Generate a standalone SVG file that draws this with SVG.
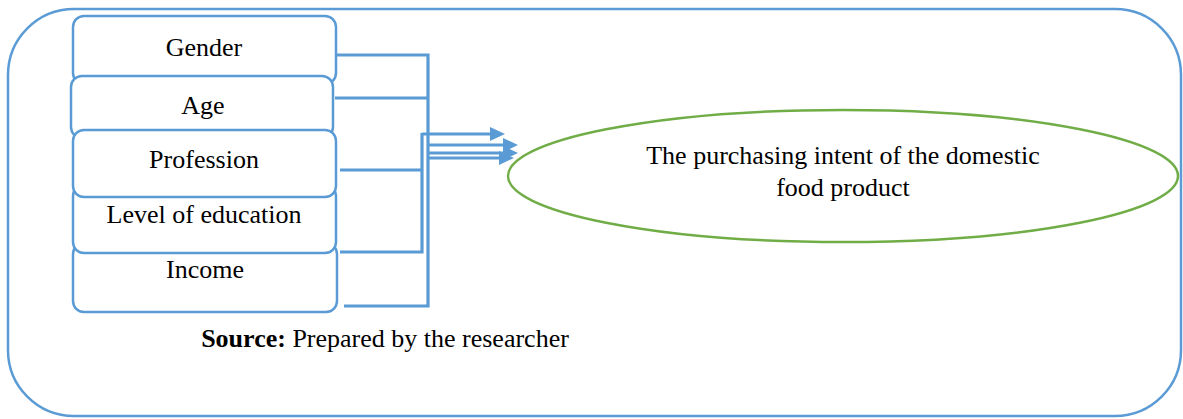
<svg xmlns="http://www.w3.org/2000/svg" width="1183" height="419" viewBox="0 0 1183 419">
  <style>
    .frame { fill: #ffffff; stroke: #5B9BD5; stroke-width: 2.5; }
    .box { fill: #ffffff; stroke: #5B9BD5; stroke-width: 2.5; }
    .label { font-family: "Liberation Serif", "Times New Roman", serif; font-size: 26px; fill: #000000; text-anchor: middle; }
    .link { fill: none; stroke: #5B9BD5; stroke-width: 3.2; }
    .goal { fill: #ffffff; stroke: #70AD47; stroke-width: 2.5; }
  </style>
  <defs>
    <marker id="head" markerUnits="userSpaceOnUse" markerWidth="16" markerHeight="16" refX="1" refY="8" orient="auto" viewBox="0 0 16 16">
      <polygon points="0,1 15,8 0,15" fill="#5B9BD5"/>
    </marker>
  </defs>

  <!-- outer rounded frame -->
  <rect class="frame" x="8" y="9" width="1173" height="407" rx="66" ry="66"/>

  <!-- stacked factor boxes -->
  <g id="gender">
    <rect class="box" x="73" y="16" width="263" height="68" rx="11"/>
    <text class="label" x="204" y="56">Gender</text>
  </g>
  <g id="age">
    <rect class="box" x="71" y="76" width="262" height="62" rx="11"/>
    <text class="label" x="203" y="114">Age</text>
  </g>
  <g id="income">
    <rect class="box" x="73" y="243" width="264" height="69" rx="11"/>
    <text class="label" x="205" y="278">Income</text>
  </g>
  <g id="education">
    <rect class="box" x="73" y="185" width="263" height="68" rx="11"/>
    <text class="label" x="204" y="223">Level of education</text>
  </g>
  <g id="profession">
    <rect class="box" x="73" y="130" width="263" height="67" rx="11"/>
    <text class="label" x="204" y="168">Profession</text>
  </g>

  <!-- connectors -->
  <g id="connectors">
    <path class="link" d="M335,55 H428 V306 H344"/>
    <path class="link" d="M335,98 H428"/>
    <path class="link" d="M340,170 H422"/>
    <path class="link" d="M340,252 H422 V133"/>
    <path class="link" d="M422,134 H491" marker-end="url(#head)"/>
    <path class="link" d="M427,145 H504" marker-end="url(#head)"/>
    <path class="link" d="M427,153 H504" marker-end="url(#head)"/>
    <path class="link" d="M427,158 H500" marker-end="url(#head)"/>
  </g>

  <!-- outcome ellipse -->
  <g id="purchase-intent">
    <ellipse class="goal" cx="843" cy="176" rx="335" ry="66"/>
    <text class="label" x="843" y="164">The purchasing intent of the domestic</text>
    <text class="label" x="843" y="196">food product</text>
  </g>

  <!-- source note -->
  <text class="label" x="385" y="347"><tspan font-weight="bold">Source:</tspan> Prepared by the researcher</text>
</svg>
